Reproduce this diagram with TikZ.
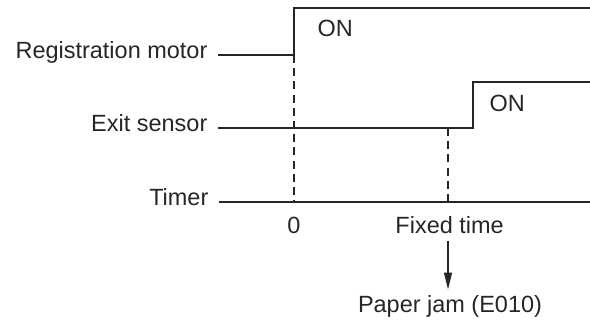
\documentclass[tikz,border=0pt]{standalone}
\usepackage{fontspec}
\setmainfont{Liberation Sans}
\usepackage{tikz}
\usetikzlibrary{arrows.meta,positioning,calc}

\begin{document}
\begin{tikzpicture}[line width=0.9pt, color=black!85, >={Triangle[length=0.42cm,width=0.2cm]},
  font=\fontsize{16.7}{20}\selectfont,
  sig/.style={line join=miter},
  guide/.style={dash pattern=on 0.2cm off 0.13cm, line width=0.8pt},
  lbl/.style={anchor=mid east, inner xsep=0.25cm}]
\useasboundingbox (0,0) rectangle (14.75,8);

% Registration motor
\coordinate (rm0) at (5.45,6.625);
\coordinate (rm1) at (7.35,6.625);
\coordinate (rm2) at (7.35,7.8);
\coordinate (rm3) at (14.75,7.8);
\draw[sig] (rm0) -- (rm1) -- (rm2) -- (rm3);
\node[lbl] (rmlbl) at (rm0) {Registration motor};
\node[anchor=base west, inner sep=0] (rmon) at (7.925,7.075) {ON};

% Exit sensor
\coordinate (es0) at (5.45,4.8);
\coordinate (es1) at (11.825,4.8);
\coordinate (es2) at (11.825,5.95);
\coordinate (es3) at (14.75,5.95);
\draw[sig] (es0) -- (es1) -- (es2) -- (es3);
\node[lbl] (eslbl) at (es0) {Exit sensor};
\node[anchor=base west, inner sep=0] (eson) at (12.225,5.2) {ON};

% Timer
\coordinate (tm0) at (5.475,2.95);
\coordinate (tm3) at (14.75,2.95);
\draw (tm0) -- (tm3);
\node[lbl] (tmlbl) at (tm0) {Timer};

% Time marks
\coordinate (t0) at (7.35,2.95);
\coordinate (tf) at (11.2,2.95);
\coordinate (esf) at (11.2,4.8);
\draw[guide] (rm1) -- (t0);
\draw[guide] (esf) -- (tf);
\node[anchor=base] (zero) at (7.35,2.15) {0};
\node[anchor=base, inner sep=0.15cm] (fix) at (11.24,2.15) {Fixed time};

% Jam
\node[anchor=base, inner sep=0.15cm] (jam) at (11.25,0.175) {Paper jam (E010)};
\draw[->] (fix.south -| tf) -- (jam.north -| tf);
\end{tikzpicture}
\end{document}
